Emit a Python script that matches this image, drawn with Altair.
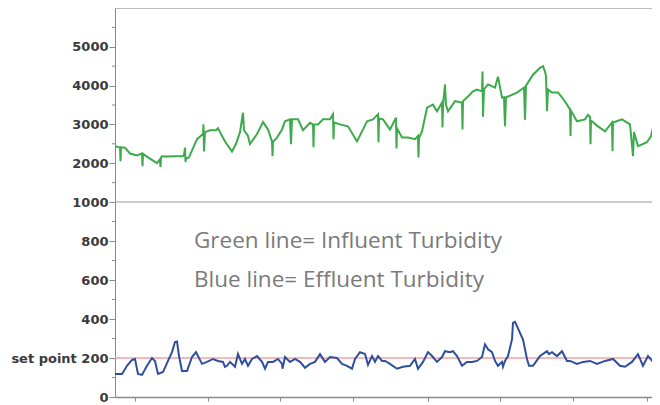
import altair as alt
import pandas as pd

# Influent turbidity (green) : sample position t and value
green_t = [0, 3, 5, 5.5, 6, 10, 15, 22, 27, 27.5, 28, 33, 42, 45, 45.5, 46, 47, 52, 60, 67,
           69, 70, 70.5, 71, 72, 74, 82, 88, 88.5, 89, 90, 95, 101, 103, 105, 110, 117, 121,
           125, 128, 129, 133, 135, 142, 148, 153, 157, 157.5, 158, 162, 167, 170, 175, 176, 177,
           183, 188, 195, 198, 198.5, 199, 203, 208, 215, 218, 218.5, 219, 225, 233, 242, 247,
           252, 258, 263, 263.5, 264, 268, 275, 281, 281.5, 282, 287, 293, 300, 303, 303.5, 304,
           307, 312, 318, 322, 327, 327.5, 328, 330, 331, 333, 340, 347, 347.5, 348, 353, 358,
           362, 367, 367.5, 368, 369, 373, 380, 383, 387, 389, 390, 391, 393, 402, 409, 410,
           411, 418, 425, 428, 430, 431, 432, 433, 437, 443, 447, 452, 455, 455.5, 456, 462,
           470, 473, 475, 475.5, 476, 483, 490, 497, 497.5, 498, 507, 515, 518, 519, 523, 532,
           536, 538, 538.5, 539, 542, 545]
green_v = [2440, 2420, 2410, 2050, 2410, 2400, 2250, 2200, 2250, 1920, 2240, 2150, 2000, 2100, 1900, 2150, 2180, 2170, 2180, 2180,
           2200, 2400, 2030, 2150, 2120, 2150, 2620, 2750, 3000, 2300, 2800, 2850, 2850, 2900, 2800, 2560, 2300, 2500,
           2800, 3300, 2850, 2700, 2490, 2750, 3060, 2870, 2560, 2180, 2550, 2660, 2870, 3080, 3130, 2490, 3130,
           3130, 2850, 3040, 3000, 2410, 3000, 3000, 3130, 3130, 3260, 2620, 3050, 3000, 2950, 2560, 2820,
           3080, 3130, 3260, 2540, 3150, 3130, 2870, 3170, 2380, 2900, 2660, 2660, 2620, 2700, 2150, 2650,
           2820, 3430, 3510, 3340, 3560, 2920, 3500, 4030, 3500, 3340, 3600, 3560, 2870, 3600, 3720, 3850,
           3900, 3850, 4360, 3200, 3900, 4030, 3950, 4230, 3690, 3700, 2950, 3700, 3720, 3820, 3950, 3120,
           4000, 4280, 4460, 4500, 4360, 4250, 3340, 3900, 3820, 3820, 3700, 3510, 3380, 2700, 3350, 3080,
           3130, 3250, 3200, 2490, 3100, 2950, 2820, 3050, 2310, 3050, 3130, 3000, 2180, 2800, 2440, 2540,
           2700, 2920, 2230, 2600, 2540, 2500]

# Effluent turbidity (blue)
blue_t = [0, 7, 12, 17, 20, 23, 27, 32, 37, 40, 43, 48, 53, 57, 60, 62, 64, 67, 72, 77, 81, 83,
          87, 92, 98, 103, 108, 110, 112, 115, 120, 123, 127, 130, 133, 137, 142, 147, 150, 153,
          158, 163, 167, 167.5, 170, 175, 180, 185, 190, 195, 200, 205, 210, 215, 222, 227, 232,
          237, 240, 245, 250, 253, 257, 260, 263, 267, 270, 275, 282, 288, 295, 300, 303, 308,
          313, 317, 322, 327, 330, 335, 338, 342, 347, 352, 357, 362, 367, 370, 373, 377, 380,
          383, 387, 388, 390, 393, 397, 398, 400, 408, 412, 414, 418, 425, 432, 434, 437, 442,
          447, 452, 455, 462, 468, 475, 482, 490, 498, 505, 510, 517, 523, 528, 533, 538, 542]
blue_v = [118, 118, 160, 190, 195, 118, 113, 160, 200, 185, 118, 128, 185, 230, 282, 285, 210, 133, 133, 205, 230, 210,
          170, 180, 195, 185, 180, 155, 160, 180, 155, 220, 170, 195, 160, 195, 210, 180, 145, 180,
          180, 195, 170, 145, 205, 180, 195, 180, 150, 170, 180, 220, 180, 205, 200, 170, 160,
          145, 195, 230, 220, 165, 210, 180, 210, 185, 185, 170, 145, 155, 160, 195, 145, 180,
          230, 210, 180, 205, 235, 230, 235, 210, 160, 180, 180, 185, 205, 270, 245, 230, 185,
          160, 180, 155, 185, 210, 295, 380, 385, 295, 195, 160, 160, 210, 235, 220, 230, 210,
          235, 185, 185, 170, 180, 185, 170, 185, 195, 160, 155, 180, 220, 160, 210, 180, 185]

y_major = [0, 200, 400, 600, 800, 1000, 2000, 3000, 4000, 5000]
y_minor = [100, 300, 500, 700, 900, 1500, 2500, 3500, 4500, 5500]
x_ticks = [20, 93, 165, 238, 313, 385, 458, 532]
set_point = 200
breaks = [1000, 6000]
notes = ["Green line= Influent Turbidity", "Blue line= Effluent Turbidity"]
note_levels = [800, 600]

W, H = 537, 389

green_df = pd.DataFrame({"t": green_t, "v": green_v})
blue_df = pd.DataFrame({"t": blue_t, "v": blue_v})
minor_df = pd.DataFrame({"v": y_minor})
break_df = pd.DataFrame({"v": breaks})
note_df = pd.DataFrame({"text": notes, "v": note_levels, "t": [79, 79]})

y_scale = alt.Scale(domain=[0, 1000, 6000], range=[H, 194, 0], nice=False, zero=False)
x_scale = alt.Scale(domain=[0, W], nice=False, zero=False)

y_axis = alt.Axis(values=y_major, title=None, format="d",
                  labelExpr="datum.value == 200 ? 'set point 200' : datum.label",
                  labelFont="DejaVu Sans", labelFontWeight="bold", labelFontSize=13,
                  labelColor="#3a3a3a", labelPadding=1, tickSize=6, tickColor="#8a8a8a",
                  domainColor="#8a8a8a", grid=False, labelOverlap=False)
x_axis = alt.Axis(values=x_ticks, labels=False, title=None, tickSize=4,
                  tickColor="#8a8a8a", domainColor="#8a8a8a", grid=False, domainWidth=1.5)

green = alt.Chart(green_df).mark_line(color="#3dab4b", strokeWidth=2, clip=True).encode(
    x=alt.X("t:Q", scale=x_scale, axis=x_axis),
    y=alt.Y("v:Q", scale=y_scale, axis=y_axis),
)
blue = alt.Chart(blue_df).mark_line(color="#2e4f9e", strokeWidth=2, clip=True).encode(
    x=alt.X("t:Q", scale=x_scale, axis=x_axis),
    y=alt.Y("v:Q", scale=y_scale, axis=y_axis),
)
red = alt.Chart(pd.DataFrame({"v": [set_point]})).mark_rule(color="#f3a1a1", strokeWidth=1.6).encode(
    y=alt.Y("v:Q", scale=y_scale, axis=y_axis),
)
brk = alt.Chart(break_df).mark_rule(color="#9a9a9a", strokeWidth=1.2).encode(
    y=alt.Y("v:Q", scale=y_scale, axis=y_axis),
)
minor = alt.Chart(minor_df).mark_rule(color="#8a8a8a", strokeWidth=1).encode(
    y=alt.Y("v:Q", scale=y_scale, axis=y_axis),
    x=alt.value(-3), x2=alt.value(0),
)
text = alt.Chart(note_df).mark_text(align="left", baseline="middle", font="Open Sans",
                                    fontSize=22.5, color="#7a7a7a").encode(
    x=alt.X("t:Q", scale=x_scale, axis=x_axis),
    y=alt.Y("v:Q", scale=y_scale, axis=y_axis),
    text="text:N",
)

chart = alt.layer(brk, red, green, blue, minor, text).properties(
    width=W, height=H,
    autosize=alt.AutoSizeParams(type="none"),
    padding={"left": 107, "top": 0, "right": 0, "bottom": 7},
).configure_view(stroke=None).configure(background="white")

chart.save("out.html", embed_options={"renderer": "svg", "actions": False})
